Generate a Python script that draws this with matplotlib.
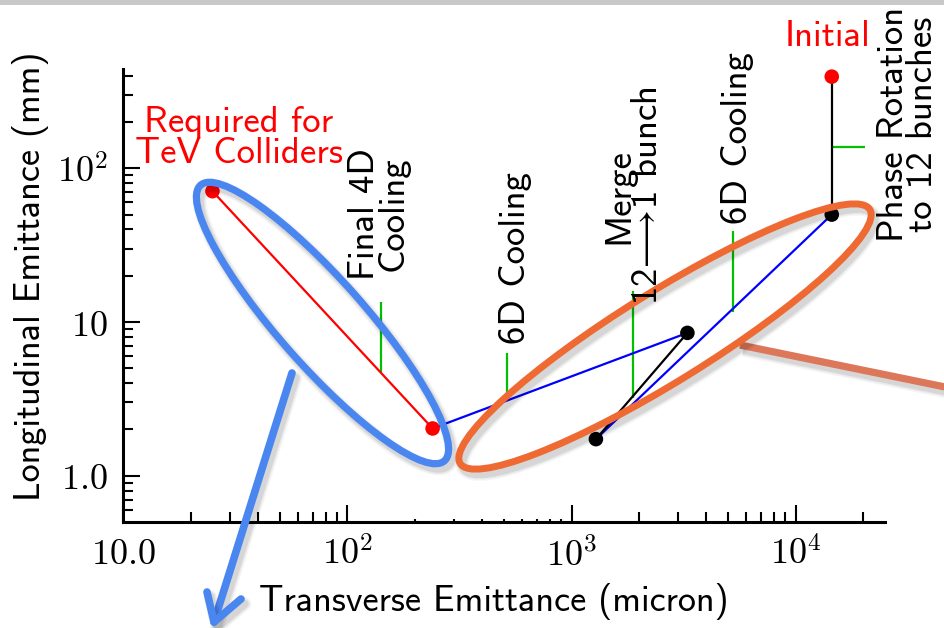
import math
import matplotlib
matplotlib.use("Agg")
import matplotlib.pyplot as plt
import matplotlib.patheffects as pe
from matplotlib.patches import Ellipse, Rectangle
from matplotlib.ticker import FixedLocator, FixedFormatter, NullFormatter

plt.rcParams["mathtext.fontset"] = "cm"
SANS = ["cmss10", "DejaVu Sans"]

# Cooling-channel stages: transverse emittance (micron) vs longitudinal emittance (mm)
stage_x = [14500, 14500, 1285, 3290, 240, 25]
stage_y = [395, 50, 1.73, 8.5, 2.03, 71]
segment_colors = ["black", "blue", "black", "blue", "red"]
point_colors = ["red", "black", "black", "black", "red", "red"]

# Green stage markers (vertical): x, lower y, upper y
marker_x = [141, 515, 1884, 5260]
marker_ylo = [4.7, 3.1, 3.2, 11.7]
marker_yhi = [13.5, 6.3, 16.0, 39.0]
# Phase-rotation marker (horizontal)
phase_y = 138
phase_x = [14500, 20400]

x_major = [10, 100, 1000, 10000]
x_labels = ["$10.0$", "$10^{2}$", "$10^{3}$", "$10^{4}$"]
x_minor = [20, 30, 40, 50, 60, 70, 80, 90,
           200, 300, 400, 500, 600, 700, 800, 900,
           2000, 3000, 4000, 5000, 6000, 7000, 8000, 9000, 20000]
y_major = [1, 10, 100]
y_labels = ["$1.0$", "$10$", "$10^{2}$"]
y_minor = [0.6, 0.7, 0.8, 0.9, 2, 3, 4, 5, 6, 7, 8, 9,
           20, 30, 40, 50, 60, 70, 80, 90, 200, 300, 400]

xlim = (10, 25000)
ylim = (0.5, 440)

W, H = 944, 628
fig = plt.figure(figsize=(W / 100, H / 100), dpi=100)

# axes placed in pixels: x-decade 224.1 px, y-decade 153.7 px
x0, y_bot = 123.3, 522.0
ax_w = math.log10(xlim[1] / xlim[0]) * 224.1
ax_h = math.log10(ylim[1] / ylim[0]) * 153.7
ax = fig.add_axes([x0 / W, 1 - y_bot / H, ax_w / W, ax_h / H])
ax.patch.set_alpha(0)
ax.set_xscale("log")
ax.set_yscale("log")
ax.set_xlim(*xlim)
ax.set_ylim(*ylim)

for side in ("top", "right"):
    ax.spines[side].set_visible(False)
for side in ("left", "bottom"):
    ax.spines[side].set_linewidth(2.2)

ax.xaxis.set_major_locator(FixedLocator(x_major))
ax.xaxis.set_major_formatter(FixedFormatter(x_labels))
ax.xaxis.set_minor_locator(FixedLocator(x_minor))
ax.xaxis.set_minor_formatter(NullFormatter())
ax.yaxis.set_major_locator(FixedLocator(y_major))
ax.yaxis.set_major_formatter(FixedFormatter(y_labels))
ax.yaxis.set_minor_locator(FixedLocator(y_minor))
ax.yaxis.set_minor_formatter(NullFormatter())
ax.tick_params(which="both", direction="in", width=1.5, labelsize=26,
               top=False, right=False)
ax.tick_params(which="major", length=12, pad=11)
ax.tick_params(which="minor", length=7)
# the 100-1000 decade carries only short minor ticks
for tick, v in zip(ax.xaxis.get_minor_ticks(len(x_minor)), x_minor):
    if 100 < v < 1000:
        tick.tick1line.set_markersize(2.5)

# stage path
for i, c in enumerate(segment_colors):
    ax.plot(stage_x[i:i + 2], stage_y[i:i + 2], color=c, lw=1.6, zorder=2)
ax.scatter(stage_x, stage_y, c=point_colors, s=110, zorder=3, linewidths=0)

ax.vlines(marker_x, marker_ylo, marker_yhi, color="#00c000", lw=1.6, zorder=1)
ax.hlines(phase_y, phase_x[0], phase_x[1], color="#00c000", lw=1.6, zorder=1)

ax.set_xlabel("Transverse Emittance (micron)", fontsize=26, family=SANS)
ax.set_ylabel("Longitudinal Emittance (mm)", fontsize=26, family=SANS)
ax.xaxis.set_label_coords((494 - x0) / ax_w, (y_bot - 583) / ax_h)
ax.yaxis.set_label_coords((49 - x0) / ax_w, (y_bot - 276) / ax_h)

# overlay in pixel units for highlights and annotations
ov = fig.add_axes([0, 0, 1, 1])
ov.set_xlim(0, W)
ov.set_ylim(H, 0)
ov.axis("off")
ov.patch.set_alpha(0)

ov.add_patch(Rectangle((0, 0), W, 4.5, color="#c8c8c8", lw=0))

# soft drop shadow (widths/offsets in points)
shadow = [pe.SimpleLineShadow(offset=(2.5, -3.5), shadow_color="k", alpha=0.035, linewidth=10),
          pe.SimpleLineShadow(offset=(2.5, -3.5), shadow_color="k", alpha=0.05, linewidth=8),
          pe.SimpleLineShadow(offset=(2.5, -3.5), shadow_color="k", alpha=0.08, linewidth=6),
          pe.Normal()]

ov.plot([740, 950], [345, 388], color="#dc7759", lw=5.2, solid_capstyle="butt",
        path_effects=shadow, zorder=1)

blue_ring = Ellipse((322.5, 323), 368, 86, angle=48.5, fill=False,
                    ec="#4a86f0", lw=5.2, path_effects=shadow, zorder=3)
orange_ring = Ellipse((665, 336.5), 482, 90, angle=-31.8, fill=False,
                      ec="#ee6a32", lw=5.0, path_effects=shadow, zorder=3)
ov.add_patch(blue_ring)
ov.add_patch(orange_ring)

ov.plot([292, 214], [373, 622], color="#4a86f0", lw=5.5, solid_capstyle="round",
        path_effects=shadow, zorder=2)
ov.plot([207, 214, 241], [592, 622, 599], color="#4a86f0", lw=5.5,
        solid_capstyle="round", solid_joinstyle="round", path_effects=shadow, zorder=2)

fs = 26.5
txt = dict(fontsize=fs, family=SANS)
ov.text(239, 138, "Required for\nTeV Colliders", color="red",
        ha="center", va="center", linespacing=0.92, **txt)
ov.text(828, 37, "Initial", color="red", ha="center", va="center", **txt)
ov.text(378.5, 280, "Final 4D\nCooling", rotation=90,
        ha="center", va="bottom", multialignment="center", linespacing=0.82, **txt)
ov.text(516, 344, "6D Cooling", rotation=90, ha="center", va="bottom", **txt)
ov.text(633, 196, "Merge\n12$\\!\\longrightarrow\\!$1 bunch",
        rotation=90, ha="center", va="center", multialignment="center",
        linespacing=0.82, **txt)
ov.text(737, 224, "6D Cooling", rotation=90, ha="center", va="bottom", **txt)
ov.text(908, 124, "Phase Rotation\nto 12 bunches", rotation=90,
        ha="center", va="center", multialignment="center", linespacing=0.82, **txt)

fig.savefig("out.png", dpi=100)
